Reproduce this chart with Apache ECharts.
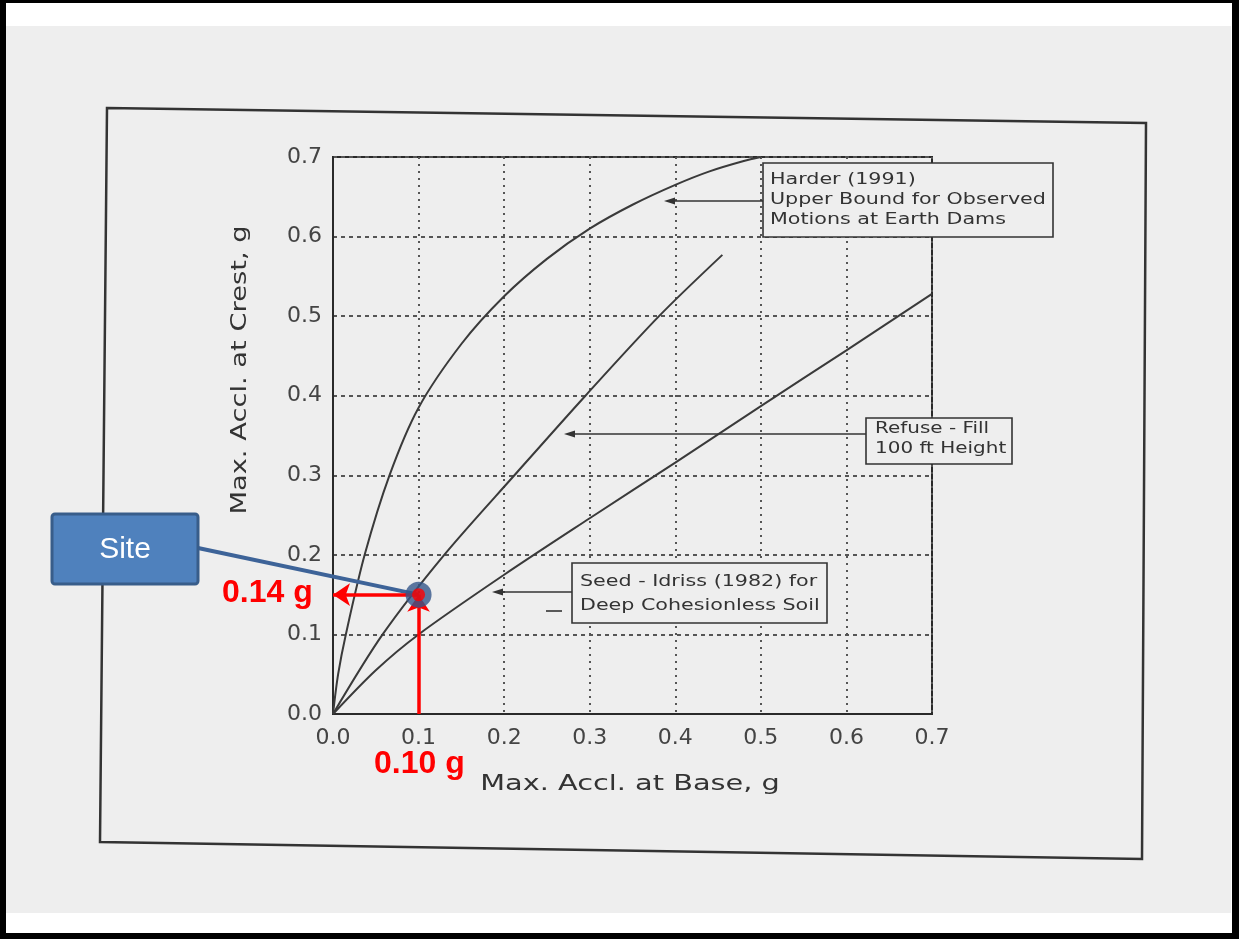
<!DOCTYPE html>
<html>
<head>
<meta charset="utf-8">
<script src="https://cdn.jsdelivr.net/npm/echarts@6.0.0/dist/echarts.min.js"></script>
<style>
html,body{margin:0;padding:0;background:#000;}
#c{width:1239px;height:939px;}
</style>
</head>
<body>
<div id="c"></div>
<script>
// ---- data ----
const xTicks = [0.0, 0.1, 0.2, 0.3, 0.4, 0.5, 0.6, 0.7];
const yTicks = [0.0, 0.1, 0.2, 0.3, 0.4, 0.5, 0.6, 0.7];
const xTitle = 'Max. Accl. at Base, g';
const yTitle = 'Max. Accl. at Crest, g';

// Harder (1991) upper bound
const harderX = [0, 0.006, 0.015, 0.037, 0.066, 0.10, 0.15, 0.20, 0.25, 0.30, 0.35, 0.40, 0.44, 0.48, 0.50];
const harderY = [0, 0.05, 0.10, 0.20, 0.30, 0.385, 0.465, 0.525, 0.572, 0.61, 0.64, 0.665, 0.682, 0.695, 0.70];
// Refuse - Fill, 100 ft height
const refuseX = [0, 0.058, 0.13, 0.212, 0.295, 0.381, 0.455];
const refuseY = [0, 0.10, 0.20, 0.30, 0.40, 0.50, 0.577];
// Seed - Idriss (1982)
const seedX = [0, 0.05, 0.10, 0.20, 0.30, 0.40, 0.50, 0.60, 0.70];
const seedY = [0, 0.055, 0.10, 0.175, 0.246, 0.316, 0.387, 0.457, 0.528];
// Site point
const siteX = 0.10;
const siteY = 0.15;
const siteLabels = ['Site', '0.14 g', '0.10 g'];
const boxHarder = ['Harder (1991)', 'Upper Bound for Observed', 'Motions at Earth Dams'];
const boxRefuse = ['Refuse - Fill', '100 ft Height'];
const boxSeed = ['Seed - Idriss (1982) for', 'Deep Cohesionless Soil'];

const zip = (xs, ys) => xs.map((x, i) => [x, ys[i]]);

// ---- layout helpers ----
const INK = '#333';
const BG = '#eeeeee';
const SCAN_FONT = 'DejaVu Sans, sans-serif';

function txt(t, x, y, size, opts) {
  opts = opts || {};
  return {
    type: 'text', x: x, y: y, z: opts.z || 30,
    scaleX: opts.scaleX || 1, rotation: opts.rotation || 0,
    style: {
      text: t, x: 0, y: 0,
      font: (opts.weight || 'normal') + ' ' + size + 'px ' + (opts.family || SCAN_FONT),
      fill: opts.fill || INK,
      align: opts.align || 'left', verticalAlign: 'middle',
      textAlign: opts.align || 'left', textVerticalAlign: 'middle'
    }
  };
}
function box(x, y, w, h) {
  return { type: 'rect', z: 25, shape: { x: x, y: y, width: w, height: h },
    style: { fill: BG, stroke: INK, lineWidth: 1.6 } };
}
function arrowLeft(x0, x1, y) {
  return [
    { type: 'line', z: 25, shape: { x1: x0, y1: y, x2: x1 + 6, y2: y }, style: { stroke: INK, lineWidth: 1.6 } },
    { type: 'polygon', z: 25, shape: { points: [[x1, y], [x1 + 11, y - 3.5], [x1 + 11, y + 3.5]] }, style: { fill: INK } }
  ];
}

const graphics = [
  // page
  { type: 'rect', z: -100, shape: { x: 6, y: 3, width: 1226, height: 930 }, style: { fill: '#ffffff' } },
  { type: 'rect', z: -99, shape: { x: 6, y: 26, width: 1225, height: 887 }, style: { fill: BG } },
  // scanned figure frame
  { type: 'polygon', z: -50, shape: { points: [[107, 108], [1146, 123], [1142, 859], [100, 842]] },
    style: { fill: 'none', stroke: INK, lineWidth: 2.5 } },
  // axis titles
  txt(xTitle, 630, 785, 21, { align: 'center', scaleX: 1.37 }),
  txt(yTitle, 241, 370, 21, { align: 'center', scaleX: 1.3, rotation: Math.PI / 2 }),
  // Harder box
  box(763, 163, 290, 74),
  txt(boxHarder[0], 770, 180, 16, { scaleX: 1.29 }),
  txt(boxHarder[1], 770, 200, 16, { scaleX: 1.29 }),
  txt(boxHarder[2], 770, 220, 16, { scaleX: 1.29 }),
  ...arrowLeft(763, 664, 201),
  // Refuse box
  box(866, 418, 146, 46),
  txt(boxRefuse[0], 875, 429, 15, { scaleX: 1.33 }),
  txt(boxRefuse[1], 875, 449, 15, { scaleX: 1.33 }),
  ...arrowLeft(866, 564, 434),
  // Seed box
  box(572, 563, 255, 60),
  txt(boxSeed[0], 580, 582, 16, { scaleX: 1.29 }),
  txt(boxSeed[1], 580, 606, 16, { scaleX: 1.29 }),
  ...arrowLeft(572, 492, 592),
  { type: 'line', z: 25, shape: { x1: 546, y1: 611, x2: 562, y2: 611 }, style: { stroke: INK, lineWidth: 1.6 } },
  // Site callout box
  { type: 'rect', z: 40, shape: { x: 52, y: 514, width: 146, height: 70, r: 3 },
    style: { fill: '#4f81bd', stroke: '#385d8a', lineWidth: 3 } },
  txt(siteLabels[0], 125, 550, 30, { align: 'center', fill: '#ffffff', family: 'Arial, Liberation Sans, sans-serif', z: 41 }),
  // red value labels
  txt(siteLabels[1], 222, 593, 32, { weight: 'bold', fill: '#ff0000', family: 'Arial, Liberation Sans, sans-serif', z: 41 }),
  txt(siteLabels[2], 374, 764, 32, { weight: 'bold', fill: '#ff0000', family: 'Arial, Liberation Sans, sans-serif', z: 41 })
];

const curveStyle = { color: '#3a3a3a', width: 2 };

const option = {
  backgroundColor: '#000',
  animation: false,
  grid: { left: 333, top: 157, right: 307, bottom: 225, show: true, borderColor: '#2a2a2a', borderWidth: 2, backgroundColor: 'transparent' },
  xAxis: {
    type: 'value', min: 0, max: 0.7, interval: 0.1,
    axisLine: { show: true, onZero: false, lineStyle: { color: '#2a2a2a', width: 2 } },
    axisTick: { show: false },
    axisLabel: { margin: 13, fontFamily: SCAN_FONT, fontSize: 22, color: '#444', formatter: v => v.toFixed(1) },
    splitLine: { show: true, lineStyle: { color: '#555', width: 2, type: [2, 5] } }
  },
  yAxis: {
    type: 'value', min: 0, max: 0.7, interval: 0.1,
    axisLine: { show: true, onZero: false, lineStyle: { color: '#2a2a2a', width: 2 } },
    axisTick: { show: false },
    axisLabel: { margin: 11, fontFamily: SCAN_FONT, fontSize: 22, color: '#444', formatter: v => v.toFixed(1) },
    splitLine: { show: true, lineStyle: { color: '#555', width: 2, type: [4, 4] } }
  },
  graphic: { elements: graphics },
  series: [
    { name: 'Harder (1991)', type: 'line', data: zip(harderX, harderY), smooth: 0.3,
      showSymbol: false, lineStyle: curveStyle, z: 3 },
    { name: 'Refuse - Fill', type: 'line', data: zip(refuseX, refuseY), smooth: 0.3,
      showSymbol: false, lineStyle: curveStyle, z: 3 },
    { name: 'Seed - Idriss (1982)', type: 'line', data: zip(seedX, seedY), smooth: 0.3,
      showSymbol: false, lineStyle: curveStyle, z: 3 },
    { name: 'Site', type: 'scatter', data: [[siteX, siteY]], symbolSize: 26,
      itemStyle: { color: '#34568a' }, z: 10, silent: true },
    { name: 'Site value', type: 'scatter', data: [[siteX, siteY]], symbolSize: 13,
      itemStyle: { color: '#ff0000' }, z: 11, silent: true,
      markLine: {
        silent: true, animation: false, symbol: ['none', 'arrow'], symbolSize: 17,
        label: { show: false },
        lineStyle: { color: '#ff0000', width: 3.5, type: 'solid' },
        emphasis: { disabled: true },
        data: [
          [{ coord: [siteX, 0] }, { coord: [siteX, siteY] }],
          [{ coord: [siteX, siteY] }, { coord: [0, siteY] }]
        ]
      } }
  ]
};

const chart = echarts.init(document.getElementById('c'), null, { renderer: 'canvas' });
chart.setOption(option);
const p = chart.convertToPixel({ gridIndex: 0 }, [siteX, siteY]);
chart.setOption({ graphic: { elements: [
  { id: 'siteConnector', type: 'line', z: 5, shape: { x1: 198, y1: 548, x2: p[0], y2: p[1] },
    style: { stroke: '#3d6398', lineWidth: 4 } }
] } });
</script>
</body>
</html>
